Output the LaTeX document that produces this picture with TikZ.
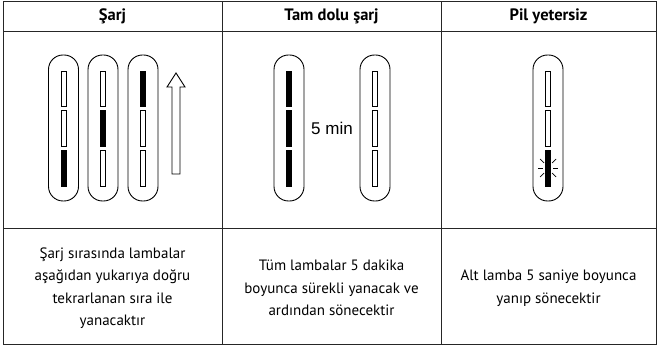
\documentclass[tikz,border=0pt]{standalone}
\usepackage{fontspec}
\setmainfont{PT Sans}
\newfontfamily\labelfont{Liberation Sans}
\usetikzlibrary{positioning}

% one battery: centre x, fill of top, middle and bottom lamp
\newcommand{\battery}[4]{%
  \draw[pill] (#1-15,55) rectangle (#1+15,201);
  \draw[lamp, fill=#2] (#1-2.5,71) rectangle (#1+2.5,106);
  \draw[lamp, fill=#3] (#1-2.5,110) rectangle (#1+2.5,146);
  \draw[lamp, fill=#4] (#1-2.5,150) rectangle (#1+2.5,186);
}

\begin{document}
\begin{tikzpicture}[
  x=1pt, y=-1pt,
  grid/.style={line width=0.9pt, draw=black!85},
  pill/.style={line width=0.9pt, rounded corners=14.5pt},
  lamp/.style={line width=0.6pt},
  ray/.style={line width=0.7pt},
  head/.style={font=\bfseries\fontsize{16.5}{19}\selectfont, inner sep=0pt},
  body/.style={align=center, font=\fontsize{15}{22.5}\selectfont, inner sep=0pt}
]
  \useasboundingbox (0,0) rectangle (658,347);

  % table
  \draw[grid] (3,1.5) rectangle (656,344);
  \draw[grid] (3,31) -- (656,31);
  \draw[grid] (3,228) -- (656,228);
  \draw[grid] (222,1.5) -- (222,344);
  \draw[grid] (441,1.5) -- (441,344);

  \node[head] (hcharge) at (112.5,16) {Şarj};
  \node[head] (hfull) at (331.5,16) {Tam dolu şarj};
  \node[head] (hlow) at (548.5,16) {Pil yetersiz};

  % charging
  \battery{63.5}{white}{white}{black}
  \battery{103}{white}{black}{white}
  \battery{143}{black}{white}{white}
  \draw[line width=0.9pt, fill=white] (172,174) -- (172,87) -- (167,87) -- (176,73)
    -- (185,87) -- (180,87) -- (180,174) -- cycle;

  % fully charged
  \battery{289}{black}{black}{black}
  \battery{375}{white}{white}{white}
  \node[font=\labelfont\fontsize{17}{20}\selectfont, inner sep=0pt] (min) at (332,128) {5 min};

  % low battery
  \battery{548}{white}{white}{black}
  \draw[ray] (538,168) -- (543,168);
  \draw[ray] (540,159) -- (544,163);
  \draw[ray] (540,177) -- (544,173);
  \draw[ray] (553,168) -- (558,168);
  \draw[ray] (556,159) -- (552,163);
  \draw[ray] (556,177) -- (552,173);

  \node[body] (tcharge) at (112.5,288) {Şarj sırasında lambalar\\aşağıdan yukarıya doğru\\tekrarlanan sıra ile\\yanacaktır};
  \node[body] (tfull) at (331.5,288) {Tüm lambalar 5 dakika\\boyunca sürekli yanacak ve\\ardından sönecektir};
  \node[body] (tlow) at (548.5,288) {Alt lamba 5 saniye boyunca\\yanıp sönecektir};
\end{tikzpicture}
\end{document}
